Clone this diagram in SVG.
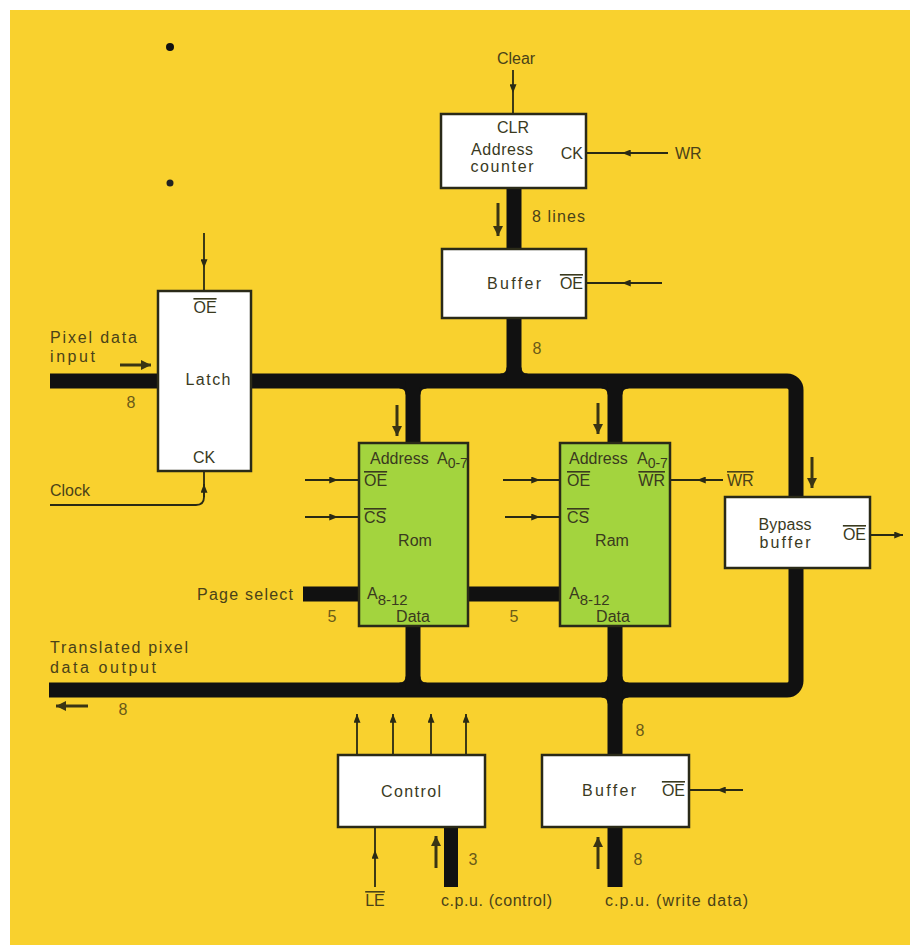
<svg xmlns="http://www.w3.org/2000/svg" width="916" height="947" viewBox="0 0 916 947">
<defs>
<style>
.bg{fill:#fff}
.panel{fill:#F9D12E}
.box{fill:#fff;stroke:#2a2a18;stroke-width:2.5}
.rom{fill:#A3D43E;stroke:#2a2a18;stroke-width:2.5}
.bus{fill:none;stroke:#111;stroke-width:15;stroke-linejoin:round}
.fil{fill:#111}
.sig{fill:none;stroke:#2a2a14;stroke-width:1.8}
.ind{fill:none;stroke:#3a3414;stroke-width:3}
text{font-family:"Liberation Sans",Arial,sans-serif;font-size:16px;fill:#3a3a1e}
.y{fill:#4a4218}
.num{fill:#6a5a18}
.m{text-anchor:middle}
.e{text-anchor:end}
.ov{text-decoration:overline}
</style>
<marker id="ah" viewBox="0 0 10 8" refX="10" refY="4" markerWidth="10" markerHeight="7" markerUnits="userSpaceOnUse" orient="auto">
<path d="M0,0 L10,4 L0,8 z" fill="#2a2a14"/>
</marker>
<marker id="ahb" viewBox="0 0 10 10" refX="10" refY="5" markerWidth="12" markerHeight="10" markerUnits="userSpaceOnUse" orient="auto">
<path d="M0,0 L10,5 L0,10 z" fill="#3a3414"/>
</marker>
</defs>
<rect class="bg" x="0" y="0" width="916" height="947"/>
<rect class="panel" x="10" y="10" width="900" height="935"/>
<circle cx="170" cy="47" r="4" fill="#111"/>
<circle cx="170" cy="183" r="3.5" fill="#222"/>

<g id="connectors">
<path class="bus" d="M251,381 H787 A9,9 0 0 1 796,390 V681 A9,9 0 0 1 787,690 H49"/>
<path class="bus" d="M50,381 H158"/>
<path class="bus" d="M514,188 V249"/>
<path class="bus" d="M514,318 V381"/>
<path class="bus" d="M413,381 V443 M413,626 V690"/>
<path class="bus" d="M615,381 V443 M615,626 V755"/>
<path class="bus" d="M615,827 V887"/>
<path class="bus" d="M303,594 H359 M468,594 H560"/>
<path class="bus" style="stroke-width:14" d="M451,827 V887"/>
<path class="fil" d="M500.5,373.5 v1 h7 v-7 h-1 q0,6 -6,6 z M527.5,373.5 v1 h-7 v-7 h1 q0,6 6,6 z"/>
<path class="fil" d="M399.5,388.5 v-1 h7 v7 h-1 q0,-6 -6,-6 z M426.5,388.5 v-1 h-7 v7 h1 q0,-6 6,-6 z M601.5,388.5 v-1 h7 v7 h-1 q0,-6 -6,-6 z M628.5,388.5 v-1 h-7 v7 h1 q0,-6 6,-6 z"/>
<path class="fil" d="M399.5,682.5 v1 h7 v-7 h-1 q0,6 -6,6 z M426.5,682.5 v1 h-7 v-7 h1 q0,6 6,6 z M601.5,682.5 v1 h7 v-7 h-1 q0,6 -6,6 z M628.5,682.5 v1 h-7 v-7 h1 q0,6 6,6 z"/>
<path class="fil" d="M601.5,697.5 v-1 h7 v7 h-1 q0,-6 -6,-6 z M628.5,697.5 v-1 h-7 v7 h1 q0,-6 6,-6 z"/>

<path class="sig" marker-mid="url(#ah)" d="M513,70 V93 V114"/>
<path class="sig" marker-mid="url(#ah)" d="M668,153 H622 H586"/>
<path class="sig" marker-mid="url(#ah)" d="M662,283 H622 H586"/>
<path class="sig" marker-mid="url(#ah)" d="M204,233 V268 V291"/>
<path class="sig" d="M50,505 H196 Q204,505 204,497 V471"/>
<path class="sig" marker-end="url(#ah)" d="M204,497 V484"/>
<path class="sig" marker-mid="url(#ah)" d="M305,480 H338 H359"/>
<path class="sig" marker-mid="url(#ah)" d="M305,517 H338 H359"/>
<path class="sig" marker-mid="url(#ah)" d="M503,480 H540 H560"/>
<path class="sig" marker-mid="url(#ah)" d="M505,517 H540 H560"/>
<path class="sig" marker-mid="url(#ah)" d="M723,480 H697 H670"/>
<path class="sig" marker-end="url(#ah)" d="M870,535 H903"/>
<path class="sig" marker-mid="url(#ah)" d="M743,790 H717 H689"/>
<path class="sig" marker-end="url(#ah)" d="M357,755 V714"/>
<path class="sig" marker-end="url(#ah)" d="M393,755 V714"/>
<path class="sig" marker-end="url(#ah)" d="M431,755 V714"/>
<path class="sig" marker-end="url(#ah)" d="M466,755 V714"/>
<path class="sig" marker-mid="url(#ah)" d="M375,887 V850 V827"/>

<path class="ind" marker-end="url(#ahb)" d="M498,203 V236"/>
<path class="ind" marker-end="url(#ahb)" d="M397,405 V436"/>
<path class="ind" marker-end="url(#ahb)" d="M598,403 V434"/>
<path class="ind" marker-end="url(#ahb)" d="M812,457 V488"/>
<path class="ind" marker-end="url(#ahb)" d="M120,365 H151"/>
<path class="ind" marker-end="url(#ahb)" d="M88,706 H56"/>
<path class="ind" marker-end="url(#ahb)" d="M436,868 V836"/>
<path class="ind" marker-end="url(#ahb)" d="M598,869 V837"/>
</g>

<g id="address-counter">
<rect class="box" x="441" y="114" width="145" height="74"/>
<text class="m" x="513" y="133">CLR</text>
<text class="m" x="502" y="155" textLength="62" lengthAdjust="spacing">Address</text>
<text class="m" x="502" y="172" textLength="63" lengthAdjust="spacing">counter</text>
<text class="e" x="583" y="159">CK</text>
</g>

<g id="buffer-top">
<rect class="box" x="442" y="249" width="144" height="69"/>
<text class="m" x="514" y="289" textLength="54" lengthAdjust="spacing">Buffer</text>
<text class="e ov" x="583" y="289">OE</text>
</g>

<g id="latch">
<rect class="box" x="158" y="291" width="93" height="180"/>
<text class="m ov" x="205" y="313">OE</text>
<text class="m" x="208" y="385" textLength="45" lengthAdjust="spacing">Latch</text>
<text class="m" x="204" y="463">CK</text>
</g>

<g id="rom">
<rect class="rom" x="359" y="443" width="109" height="183"/>
<text x="370" y="464">Address <tspan x="437">A</tspan><tspan font-size="14" dy="4">0-7</tspan></text>
<text class="ov" x="364" y="486">OE</text>
<text class="ov" x="364" y="523">CS</text>
<text class="m" x="415" y="546">Rom</text>
<text x="367" y="599">A<tspan font-size="15" dy="6">8-12</tspan></text>
<text class="m" x="413" y="622">Data</text>
</g>

<g id="ram">
<rect class="rom" x="560" y="443" width="110" height="183"/>
<text x="569" y="464">Address <tspan x="637">A</tspan><tspan font-size="14" dy="4">0-7</tspan></text>
<text class="ov" x="567" y="486">OE</text>
<text class="e ov" x="665" y="486">WR</text>
<text class="ov" x="567" y="523">CS</text>
<text class="m" x="612" y="546">Ram</text>
<text x="569" y="599">A<tspan font-size="15" dy="6">8-12</tspan></text>
<text class="m" x="613" y="622">Data</text>
</g>

<g id="bypass-buffer">
<rect class="box" x="725" y="497" width="145" height="71"/>
<text class="m" x="785" y="530" textLength="53" lengthAdjust="spacing">Bypass</text>
<text class="m" x="785" y="548" textLength="51" lengthAdjust="spacing">buffer</text>
<text class="e ov" x="866" y="540">OE</text>
</g>

<g id="control">
<rect class="box" x="338" y="755" width="147" height="72"/>
<text class="m" x="411" y="797" textLength="60" lengthAdjust="spacing">Control</text>
</g>

<g id="buffer-bottom">
<rect class="box" x="542" y="755" width="147" height="72"/>
<text class="m" x="609" y="796" textLength="54" lengthAdjust="spacing">Buffer</text>
<text class="e ov" x="685" y="796">OE</text>
</g>

<g id="labels">
<text class="m y" x="516" y="64">Clear</text>
<text class="y" x="675" y="159">WR</text>
<text class="y" x="532" y="222" textLength="53" lengthAdjust="spacing">8 lines</text>
<text class="num m" x="537" y="354">8</text>
<text class="y" x="50" y="343" textLength="87" lengthAdjust="spacing">Pixel data</text>
<text class="y" x="50" y="362" textLength="45" lengthAdjust="spacing">input</text>
<text class="num m" x="131" y="408">8</text>
<text class="y" x="50" y="496">Clock</text>
<text class="y" x="197" y="600" textLength="96" lengthAdjust="spacing">Page select</text>
<text class="num m" x="332" y="622">5</text>
<text class="num m" x="514" y="622">5</text>
<text class="y ov" x="727" y="486">WR</text>
<text class="y" x="50" y="653" textLength="138" lengthAdjust="spacing">Translated pixel</text>
<text class="y" x="50" y="673" textLength="106" lengthAdjust="spacing">data output</text>
<text class="num m" x="123" y="715">8</text>
<text class="num m" x="640" y="736">8</text>
<text class="num m" x="638" y="865">8</text>
<text class="num m" x="473" y="865">3</text>
<text class="y m ov" x="375" y="906">LE</text>
<text class="y" x="441" y="906" textLength="111" lengthAdjust="spacing">c.p.u. (control)</text>
<text class="y" x="605" y="906" textLength="143" lengthAdjust="spacing">c.p.u. (write data)</text>
</g>
</svg>
